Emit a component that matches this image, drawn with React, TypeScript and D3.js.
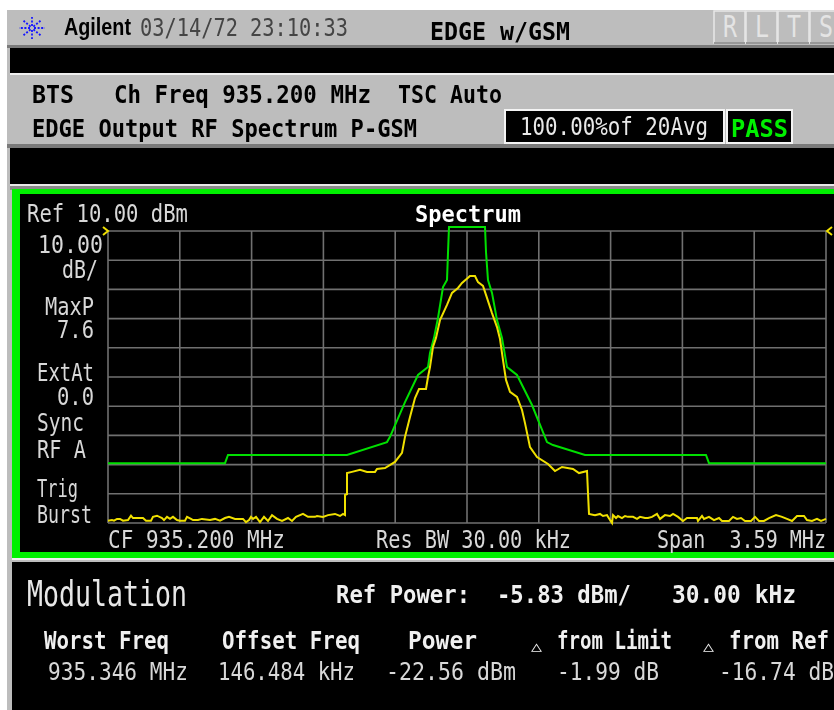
import React from "react";
import * as d3 from "d3";

const WIDTH = 834;
const HEIGHT = 710;

const limitFreq = [-1.795,-1.21,-1.195,-0.6,-0.4,-0.385,-0.31,-0.245,-0.195,-0.185,-0.165,-0.145,-0.12,-0.1,-0.095,-0.09,0.09,0.095,0.105,0.125,0.15,0.175,0.2,0.25,0.325,0.4,0.43,0.59,1.195,1.21,1.795];
const limitLevel = [-69.5,-69.5,-66.7,-66.7,-62.3,-60.5,-48.6,-39.3,-36.6,-31.8,-26.6,-19.8,-9.2,-6.8,2.5,11.4,11.4,2.8,-6.8,-11.2,-20.5,-26.6,-36.6,-39.3,-49.6,-62.3,-63.3,-66.7,-66.7,-69.5,-69.5];

const traceFreq = [-1.795,-1.775,-1.765,-1.75,-1.735,-1.72,-1.695,-1.68,-1.67,-1.62,-1.605,-1.58,-1.57,-1.55,-1.525,-1.515,-1.5,-1.485,-1.47,-1.45,-1.435,-1.41,-1.4,-1.38,-1.37,-1.345,-1.325,-1.285,-1.26,-1.235,-1.21,-1.19,-1.16,-1.12,-1.105,-1.09,-1.08,-1.07,-1.055,-1.035,-1.015,-0.995,-0.975,-0.95,-0.925,-0.895,-0.875,-0.855,-0.82,-0.795,-0.76,-0.75,-0.72,-0.695,-0.66,-0.635,-0.62,-0.61,-0.61,-0.6,-0.6,-0.575,-0.535,-0.5,-0.46,-0.45,-0.41,-0.36,-0.325,-0.31,-0.285,-0.26,-0.24,-0.205,-0.195,-0.185,-0.17,-0.155,-0.135,-0.1,-0.075,-0.045,-0.025,0.015,0.04,0.055,0.08,0.1,0.125,0.15,0.165,0.18,0.195,0.215,0.25,0.275,0.29,0.315,0.35,0.405,0.44,0.475,0.53,0.56,0.6,0.605,0.61,0.64,0.665,0.68,0.7,0.715,0.725,0.73,0.745,0.755,0.775,0.79,0.805,0.83,0.85,0.865,0.89,0.905,0.925,0.95,0.965,0.99,1.015,1.03,1.055,1.08,1.1,1.15,1.155,1.175,1.185,1.21,1.235,1.26,1.275,1.31,1.33,1.35,1.37,1.39,1.42,1.44,1.46,1.485,1.51,1.545,1.575,1.6,1.625,1.65,1.685,1.7,1.725,1.75,1.77,1.795];
const traceLevel = [-89.2,-89,-89.2,-88.6,-88.6,-89.2,-89,-87.5,-88.3,-88.3,-89.2,-89.2,-87.9,-87.5,-88.3,-89,-87.9,-88.6,-87.9,-89,-89.2,-89.2,-87.9,-88.6,-89,-89,-88.6,-89,-88.6,-89.2,-88.3,-87.9,-88.6,-88.6,-89.7,-89,-87.9,-88.6,-87.9,-89.7,-87.9,-89.3,-87.3,-88.6,-89.3,-88.3,-89.3,-87.9,-86.9,-87.9,-87.9,-87.6,-87.9,-87.3,-86.9,-87.6,-86.9,-87.3,-80.4,-80.1,-72.9,-72.5,-71.8,-72.5,-72.5,-71.5,-71.2,-69.1,-66,-60.5,-53.7,-47.2,-44.1,-44.1,-40,-36.6,-29.7,-26.6,-20.5,-15.3,-11.2,-9.5,-7.8,-5.4,-5.4,-7.5,-8.8,-12.9,-18.1,-22.9,-27,-34.2,-41,-45.1,-46.8,-51.3,-55.8,-64,-67.4,-69.8,-72.2,-70.8,-71.5,-72.9,-72.2,-79.7,-86.9,-87.3,-86.9,-87.6,-87.3,-89,-90,-87.3,-88.3,-87.6,-88.3,-87.6,-87.9,-87.9,-88.6,-87.9,-88.3,-88.3,-87.9,-86.9,-88.6,-87.3,-87.6,-86.9,-87.9,-89.3,-88.3,-88.3,-89.3,-87.6,-88.6,-87.9,-89,-88.3,-89.3,-89.3,-87.9,-88.6,-88.3,-89.3,-89.3,-87.9,-89.3,-89.3,-88.3,-87.3,-87.9,-88.6,-89.3,-87.6,-87.6,-89,-89.3,-88.6,-89.3,-88.6];

const gridFreqs = [-1.795,-1.436,-1.077,-0.718,-0.359,0,0.359,0.718,1.077,1.436,1.795];
const gridLevels = [10,0,-10,-20,-30,-40,-50,-60,-70,-80,-90];

const statusButtons = ["R", "L", "T", "S"];
const columnHeads = ["Worst Freq", "Offset Freq", "Power", "from Limit", "from Ref"];
const columnValues = ["935.346 MHz", "146.484 kHz", "-22.56 dBm", "-1.99 dB", "-16.74 dB"];

const x = d3.scaleLinear().domain([-1.795, 1.795]).range([108, 826]);
const y = d3.scaleLinear().domain([10, -90]).range([231, 523]);

const MONO = "'DejaVu Sans Mono', monospace";
const BOLD = "'DejaVu Sans Mono', monospace";

type TP = { x: number; y: number; w: number; s: string; size?: number; fill?: string; bold?: boolean; font?: string };
function T({ x: tx, y: ty, w, s, size = 24, fill = "#d8d8d8", bold = false, font }: TP) {
  return (
    <text x={tx} y={ty} textLength={w} lengthAdjust="spacingAndGlyphs" fontSize={size} fill={fill}
      fontFamily={font ?? (bold ? BOLD : MONO)} fontWeight={bold ? 700 : 400} style={{ whiteSpace: "pre" }}>
      {s}
    </text>
  );
}

function Logo({ cx, cy }: { cx: number; cy: number }) {
  const angles = d3.range(0, 360, 45);
  return (
    <g stroke="#1414ff" strokeWidth={1.8} strokeDasharray="2 1.6" fill="none">
      {angles.map((a) => {
        const r = (a * Math.PI) / 180;
        return <line key={a} x1={cx + Math.cos(r) * 2} y1={cy + Math.sin(r) * 2} x2={cx + Math.cos(r) * 13} y2={cy + Math.sin(r) * 11} />;
      })}
    </g>
  );
}

export default function App() {
  const limitPath = d3.line<number>().x((d) => x(d)).y((_, i) => y(limitLevel[i]))(limitFreq) ?? "";
  const tracePath = d3.line<number>().x((d) => x(d)).y((_, i) => y(traceLevel[i]))(traceFreq) ?? "";
  return (
    <svg width={WIDTH} height={HEIGHT} viewBox={`0 0 ${WIDTH} ${HEIGHT}`}
      style={{ position: "absolute", left: 0, top: 0, background: "#fff" }}>
      <defs>
        <filter id="soft" x="-2%" y="-2%" width="104%" height="104%">
          <feGaussianBlur stdDeviation="0.35" />
        </filter>
      </defs>
      <rect x={7} y={10} width={827} height={700} fill="#bdbdbd" />

      {/* status bars */}
      <rect x={7} y={45} width={827} height={3} fill="#7a7a7a" />
      <rect x={10} y={48} width={824} height={25} fill="#000" />
      <rect x={10} y={73} width={824} height={2} fill="#f0f0f0" />
      <rect x={7} y={144} width={827} height={4} fill="#7a7a7a" />
      <rect x={10} y={148} width={824} height={36} fill="#000" />
      <rect x={10} y={184} width={824} height={2} fill="#e8e8e8" />
      <rect x={10} y={186} width={824} height={4} fill="#8a8a8a" />

      {/* status buttons */}
      {statusButtons.map((b, i) => (
        <g key={b}>
          <rect x={714 + i * 32} y={11} width={31} height={32} fill="#bdbdbd" stroke="#e8e8e8" strokeWidth={1.5} />
          <line x1={714 + i * 32} x2={745 + i * 32} y1={43} y2={43} stroke="#808080" strokeWidth={1.5} />
          <T x={723 + i * 32} y={37} w={14} s={b} size={30} fill="#e4e4e4" font="'DejaVu Sans Mono', monospace" />
        </g>
      ))}

      <g filter="url(#soft)">
        <Logo cx={32} cy={28} />
        <T x={64} y={35} w={67} s="Agilent" size={23} fill="#000" bold font="'Liberation Sans', sans-serif" />
        <T x={140} y={36} w={208} s="03/14/72 23:10:33" size={25} fill="#444" />
        <T x={430} y={40} w={140} s="EDGE w/GSM" size={24} fill="#000" bold />
        <T x={32} y={103} w={42} s="BTS" size={24} fill="#000" bold />
        <T x={114} y={103} w={257} s="Ch Freq 935.200 MHz" size={24} fill="#000" bold />
        <T x={398} y={103} w={104} s="TSC Auto" size={24} fill="#000" bold />
        <T x={32} y={137} w={385} s="EDGE Output RF Spectrum P-GSM" size={24} fill="#000" bold />
      </g>

      {/* average + pass boxes */}
      <rect x={505} y={110} width={219} height={33} fill="#000" stroke="#f4f4f4" strokeWidth={2} />
      <rect x={727} y={110} width={65} height={33} fill="#000" stroke="#f4f4f4" strokeWidth={2} />
      <g filter="url(#soft)">
        <T x={520} y={135} w={188} s="100.00%of 20Avg" size={24} fill="#e8e8e8" />
        <T x={731} y={137} w={57} s="PASS" size={25} fill="#00f000" bold />
      </g>

      {/* plot panel */}
      <rect x={12} y={189} width={822} height={369} fill="#00f000" />
      <rect x={20} y={194} width={814} height={358} fill="#000" />
      <rect x={12} y={558} width={822} height={2} fill="#f0f0f0" />

      <g stroke="#707070" strokeWidth={1.6}>
        {gridFreqs.map((f) => (
          <line key={f} x1={x(f)} x2={x(f)} y1={y(10)} y2={y(-90)} />
        ))}
        {gridLevels.map((l) => (
          <line key={l} x1={x(-1.795)} x2={x(1.795)} y1={y(l)} y2={y(l)} />
        ))}
      </g>
      <path d={limitPath} fill="none" stroke="#00e000" strokeWidth={2} />
      <path d={tracePath} fill="none" stroke="#f0e000" strokeWidth={2} />
      <polyline points={`${x(-1.795) - 5},${y(10) - 4} ${x(-1.795)},${y(10)} ${x(-1.795) - 5},${y(10) + 4}`} fill="none" stroke="#f0e000" strokeWidth={2} />
      <polyline points={`${x(1.795) + 6},${y(10) - 4} ${x(1.795) + 1},${y(10)} ${x(1.795) + 6},${y(10) + 4}`} fill="none" stroke="#f0e000" strokeWidth={2} />

      <g filter="url(#soft)">
        <T x={27} y={222} w={161} s="Ref 10.00 dBm" />
        <T x={415} y={222} w={106} s="Spectrum" size={23} fill="#fff" bold />
        <T x={38} y={253} w={65} s="10.00" size={25} />
        <T x={62} y={278} w={36} s="dB/" />
        <T x={45} y={315} w={49} s="MaxP" />
        <T x={57} y={338} w={37} s="7.6" />
        <T x={37} y={381} w={57} s="ExtAt" />
        <T x={57} y={405} w={37} s="0.0" />
        <T x={37} y={431} w={47} s="Sync" />
        <T x={37} y={458} w={49} s="RF A" />
        <T x={37} y={497} w={41} s="Trig" />
        <T x={37} y={523} w={55} s="Burst" />
        <T x={108} y={548} w={177} s="CF 935.200 MHz" />
        <T x={376} y={548} w={195} s="Res BW 30.00 kHz" />
        <T x={657} y={548} w={169} s="Span  3.59 MHz" />
      </g>

      {/* results panel */}
      <rect x={12} y={562} width={822} height={148} fill="#000" />
      <g filter="url(#soft)">
        <T x={27} y={606} w={160} s="Modulation" size={36} fill="#e8e8e8" />
        <T x={336} y={603} w={295} s="Ref Power:  -5.83 dBm/" size={24} fill="#f0f0f0" bold />
        <T x={672} y={603} w={124} s="30.00 kHz" size={24} fill="#f0f0f0" bold />

        <T x={44} y={649} w={125} s={columnHeads[0]} size={24} fill="#f0f0f0" bold />
        <T x={222} y={649} w={138} s={columnHeads[1]} size={24} fill="#f0f0f0" bold />
        <T x={408} y={649} w={69} s={columnHeads[2]} size={24} fill="#f0f0f0" bold />
        <T x={531} y={651} w={11} s="△" size={14} fill="#f0f0f0" />
        <T x={557} y={649} w={115} s={columnHeads[3]} size={24} fill="#f0f0f0" bold />
        <T x={703} y={651} w={11} s="△" size={14} fill="#f0f0f0" />
        <T x={729} y={649} w={100} s={columnHeads[4]} size={24} fill="#f0f0f0" bold />

        <T x={48} y={680} w={140} s={columnValues[0]} />
        <T x={218} y={680} w={137} s={columnValues[1]} />
        <T x={386} y={680} w={130} s={columnValues[2]} />
        <T x={557} y={680} w={102} s={columnValues[3]} />
        <T x={719} y={680} w={115} s={columnValues[4]} />
      </g>
    </svg>
  );
}
